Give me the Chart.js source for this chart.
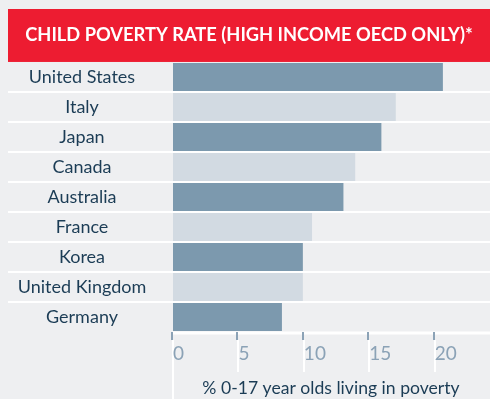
<!DOCTYPE html>
<html>
<head>
<meta charset="utf-8">
<script src="https://cdn.jsdelivr.net/npm/chart.js@4.4.1/dist/chart.umd.min.js"></script>
<style>
  html, body { margin: 0; padding: 0; background: #eeeff1; }
  #wrap { width: 490px; height: 399px; }
</style>
</head>
<body>
<div id="wrap"><canvas id="povertyChart" width="490" height="399"></canvas></div>
<script>
// Child poverty rate, high income OECD countries
const countries = ['United States', 'Italy', 'Japan', 'Canada', 'Australia', 'France', 'Korea', 'United Kingdom', 'Germany'];
const povertyRates = [20.7, 17.1, 16.0, 14.0, 13.1, 10.7, 10.0, 10.0, 8.4];
const tickValues = [0, 5, 10, 15, 20];

const colors = {
  bg: '#eeeff1',
  red: '#ed1c31',
  barDark: '#7c99ae',
  barLight: '#d2dae2',
  navy: '#1b3c55',
  tickGray: '#8ba2b6',
  white: '#ffffff'
};

const FONT = 'Lato';
const LABEL_COL = 164;
const LABEL_SIZE = 18;

// measure the widest label so labels sit centred in the left column
const mctx = document.createElement('canvas').getContext('2d');
mctx.font = LABEL_SIZE + 'px ' + FONT;
const widest = Math.max(...countries.map(c => mctx.measureText(c).width));
const labelPad = (LABEL_COL - widest) / 2;

// red header band, row separators and the white lines under the axis
const backdrop = {
  id: 'backdrop',
  beforeDraw(chart) {
    const { ctx, chartArea, scales } = chart;
    const t = chart.titleBlock;
    ctx.save();
    ctx.fillStyle = colors.red;
    ctx.fillRect(t.left, t.top, t.width, t.height);

    ctx.strokeStyle = colors.white;
    ctx.lineWidth = 2;
    const rowH = (chartArea.bottom - chartArea.top) / countries.length;
    for (let i = 1; i < countries.length; i++) {
      const y = chartArea.top + i * rowH;
      ctx.beginPath();
      ctx.moveTo(8, y);
      ctx.lineTo(chart.width, y);
      ctx.stroke();
    }

    // axis line
    ctx.lineWidth = 3;
    ctx.beginPath();
    ctx.moveTo(chartArea.left, chartArea.bottom + 1);
    ctx.lineTo(chart.width, chartArea.bottom + 1);
    ctx.stroke();

    // white verticals below the tick marks
    ctx.lineWidth = 2;
    tickValues.forEach(v => {
      const x = Math.round(scales.x.getPixelForValue(v)) + 1;
      ctx.beginPath();
      ctx.moveTo(x, chartArea.bottom + 8);
      ctx.lineTo(x, v === 0 ? chart.height : chartArea.bottom + 40);
      ctx.stroke();
    });
    ctx.restore();
  }
};

new Chart(document.getElementById('povertyChart'), {
  type: 'bar',
  data: {
    labels: countries,
    datasets: [{
      data: povertyRates,
      backgroundColor: countries.map((c, i) => i % 2 === 0 ? colors.barDark : colors.barLight),
      borderWidth: 0,
      categoryPercentage: 1,
      barPercentage: 0.93
    }]
  },
  options: {
    indexAxis: 'y',
    responsive: false,
    animation: false,
    layout: { padding: { top: 9, left: 8, right: 0, bottom: 0 } },
    scales: {
      x: {
        min: 0,
        max: 24.3,
        afterFit(scale) { scale.height = 67; },
        afterBuildTicks(scale) { scale.ticks = tickValues.map(v => ({ value: v })); },
        grid: {
          drawOnChartArea: false,
          drawTicks: true,
          tickLength: 8,
          color: colors.tickGray,
          lineWidth: 2
        },
        border: { display: false },
        ticks: {
          align: 'start',
          labelOffset: 1,
          padding: 2,
          color: colors.tickGray,
          font: { family: FONT, size: 19 }
        },
        title: {
          display: true,
          text: '% 0-17 year olds living in poverty',
          color: colors.navy,
          font: { family: FONT, size: 17.6 },
          padding: { top: 0, bottom: 0 }
        }
      },
      y: {
        afterFit(scale) { scale.width = LABEL_COL; },
        grid: { display: false },
        border: { display: false },
        ticks: {
          crossAlign: 'center',
          padding: labelPad,
          color: colors.navy,
          font: { family: FONT, size: LABEL_SIZE }
        }
      }
    },
    plugins: {
      legend: { display: false },
      tooltip: { enabled: false },
      title: {
        display: true,
        text: 'CHILD POVERTY RATE (HIGH INCOME OECD ONLY)*',
        color: colors.white,
        font: { family: FONT, size: 18.3, weight: 'bold', lineHeight: 1.2 },
        padding: { top: 15.5, bottom: 15.5 }
      }
    }
  },
  plugins: [backdrop]
});
</script>
</body>
</html>
